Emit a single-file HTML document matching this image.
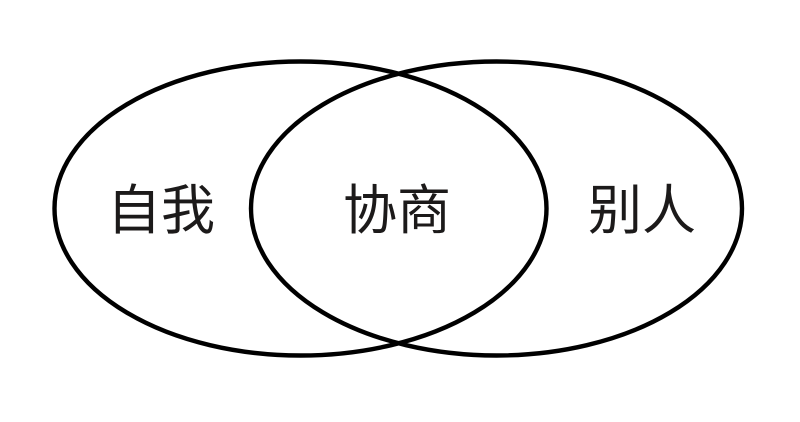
<!DOCTYPE html>
<html>
<head>
<meta charset="utf-8">
<style>
html,body{margin:0;padding:0;background:#fff;width:800px;height:422px;overflow:hidden}
svg{display:block}
text{font-family:"Liberation Sans","Noto Sans CJK SC",sans-serif;font-size:54px;fill:#1c1a1a;font-weight:400}
</style>
</head>
<body>
<svg width="800" height="422" viewBox="0 0 800 422" xmlns="http://www.w3.org/2000/svg">
<ellipse cx="300.5" cy="208.5" rx="246" ry="147" fill="none" stroke="#000" stroke-width="4.4"/>
<ellipse cx="496.5" cy="208.5" rx="245.5" ry="147" fill="none" stroke="#000" stroke-width="4.4"/>
<text x="107" y="229">自我</text>
<text x="343" y="229">协商</text>
<text x="588" y="229">别人</text>
</svg>
</body>
</html>
